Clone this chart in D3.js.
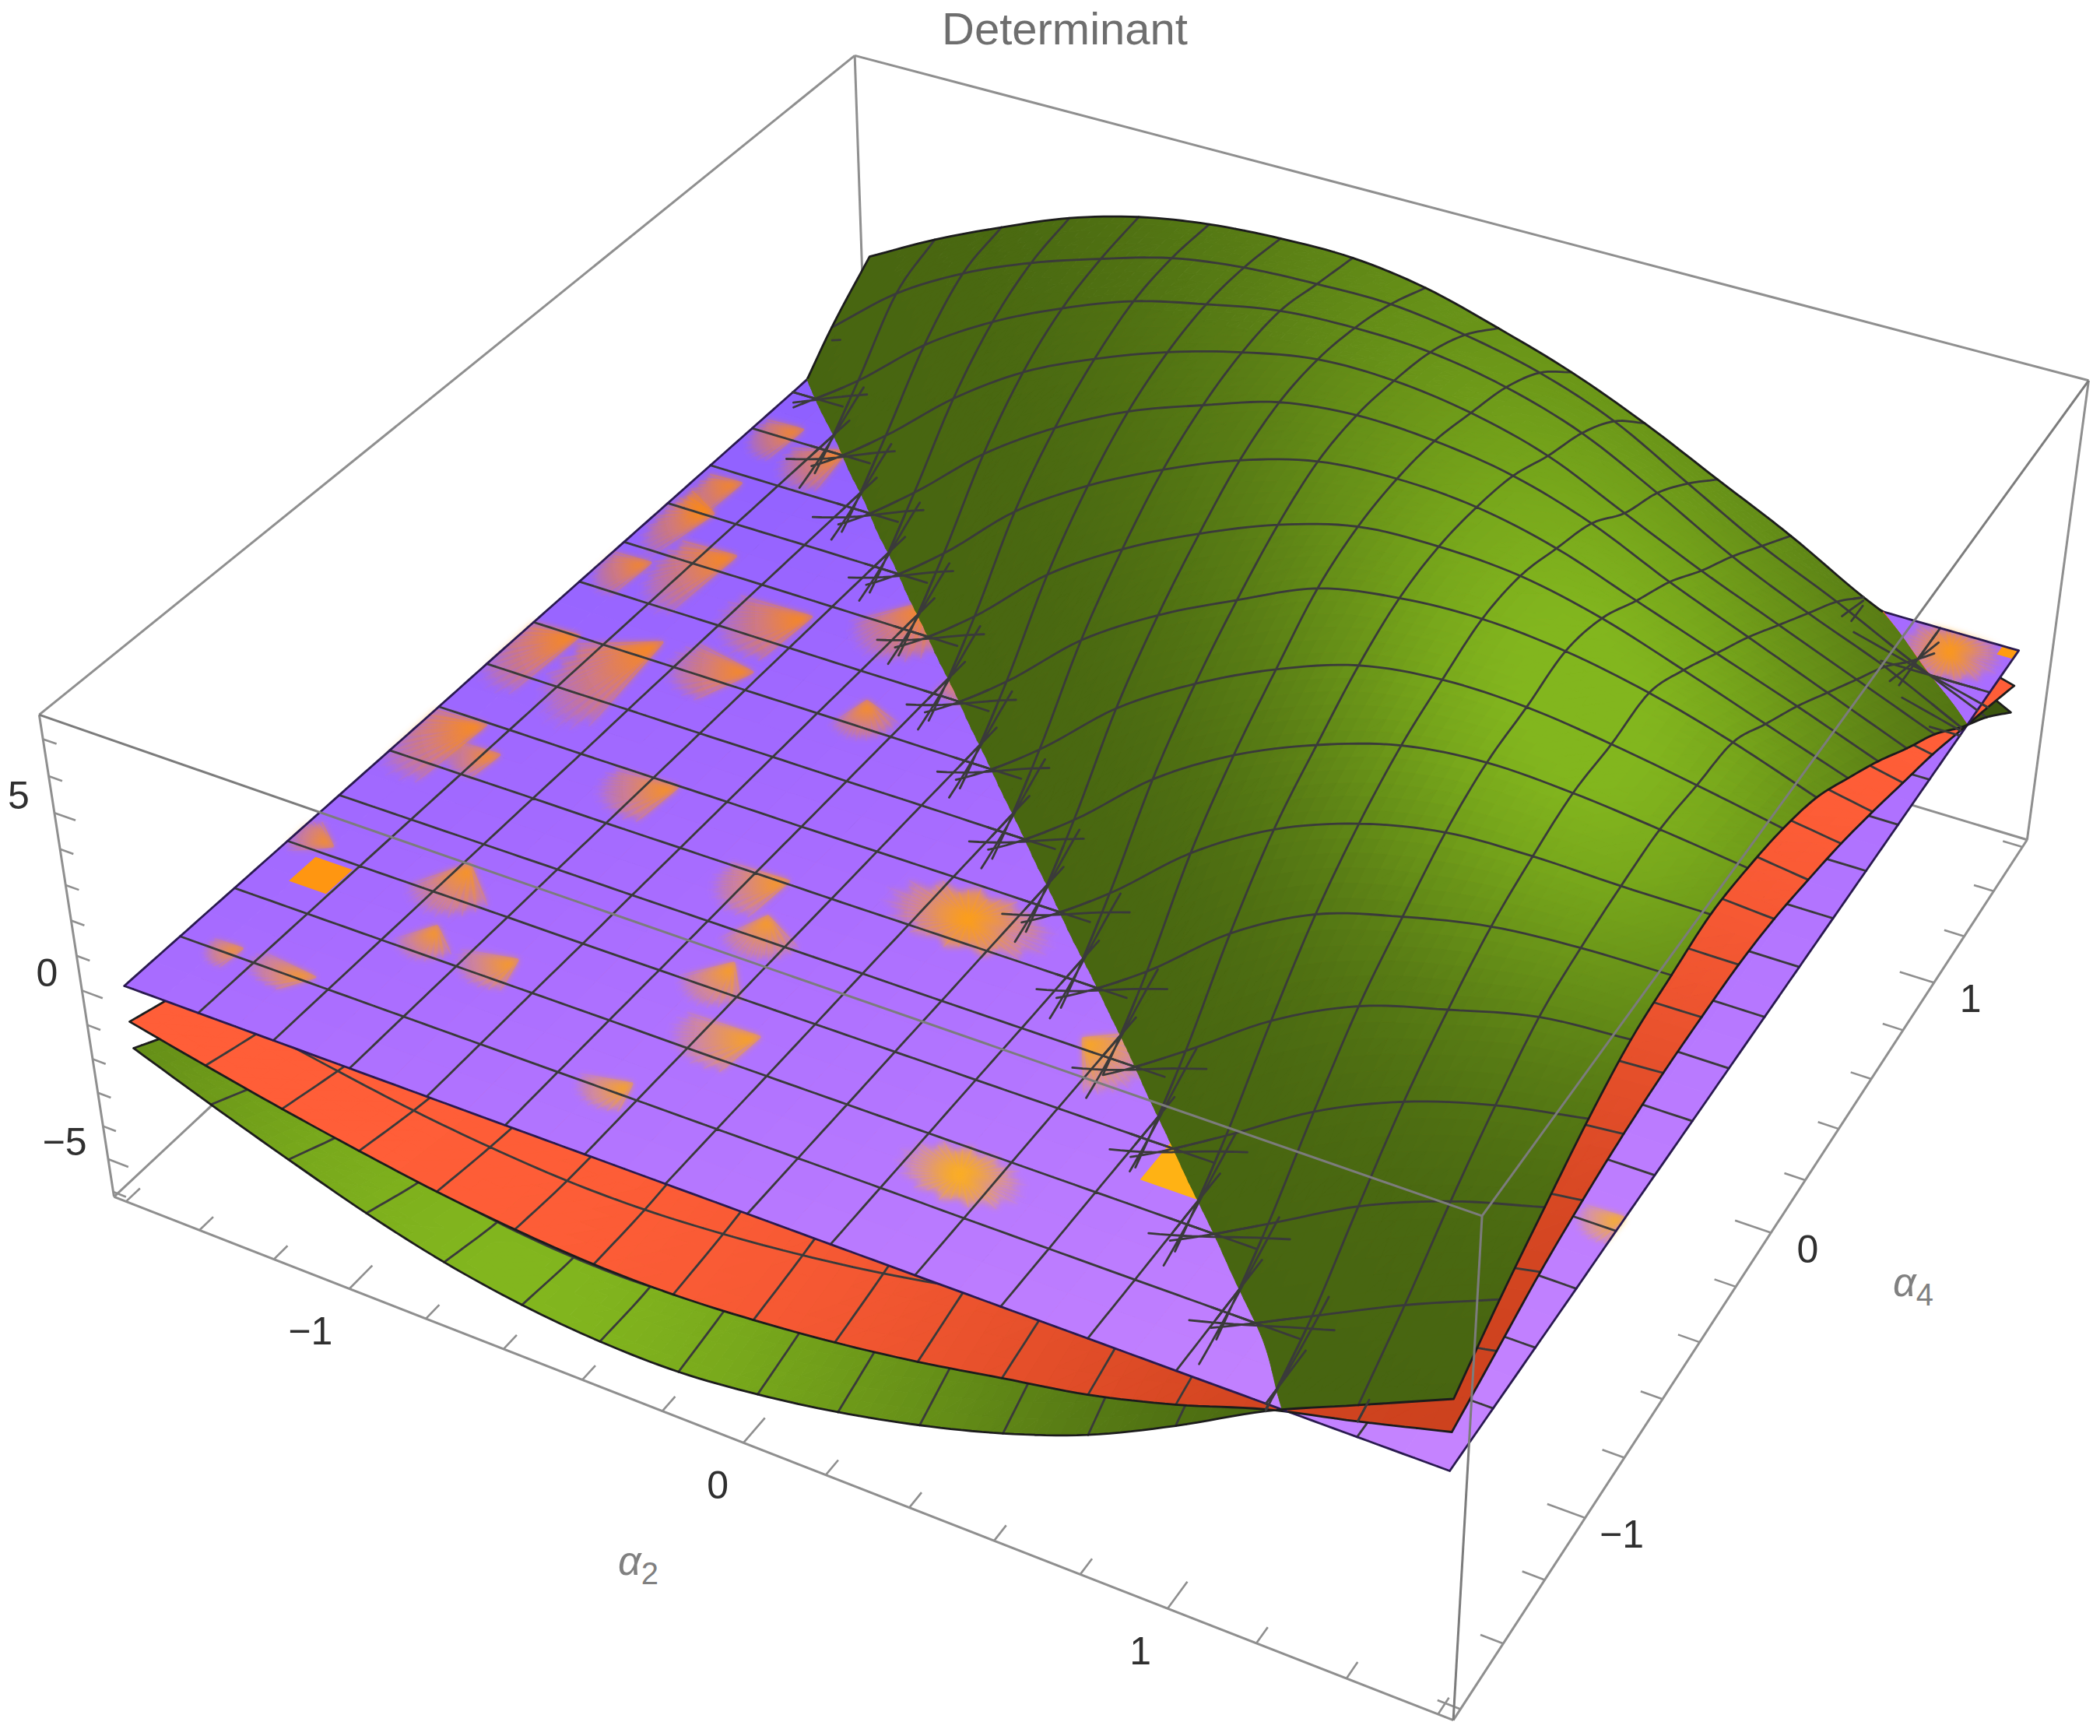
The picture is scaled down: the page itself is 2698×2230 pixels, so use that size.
<!DOCTYPE html>
<html><head><meta charset="utf-8"><script src="https://cdn.jsdelivr.net/npm/d3@7"></script>
<style>html,body{margin:0;padding:0;background:#fff}svg{display:block}</style></head><body><svg id="c" width="2698" height="2230" viewBox="0 0 2698 2230"></svg>
<script>
// z values of the three sheets on the mesh, rows = alpha4 index, columns = alpha2 index
const zGreen=[
[-1.9,-2.75,-3.55,-4.3,-4.9,-5.3,-5.5,-5.5,-5.25,-4.85,-4.3,-3.6,-2.7,-1.5,-.15,.95,2.05],
[-2.75,-3.55,-4.3,-4.9,-5.3,-5.5,-5.5,-5.2,-4.8,-4.2,-3.4,-2.6,-1.5,-.4,.8,2.0,3.05],
[-3.55,-4.3,-4.9,-5.3,-5.5,-5.5,-5.2,-4.8,-4.2,-3.4,-2.6,-1.55,-.45,.85,2.2,3.2,3.9],
[-4.3,-4.9,-5.3,-5.5,-5.5,-5.2,-4.8,-4.2,-3.4,-2.6,-1.6,-.5,.9,2.4,3.5,4.23,4.7],
[-4.9,-5.3,-5.5,-5.5,-5.2,-4.8,-4.2,-3.4,-2.6,-1.6,-.55,.95,2.6,3.8,4.5,5.1,5.3],
[-5.3,-5.5,-5.5,-5.2,-4.8,-4.2,-3.4,-2.6,-1.6,-.55,.95,2.8,4.1,4.8,5.3,5.5,5.55],
[-5.5,-5.5,-5.2,-4.8,-4.2,-3.4,-2.6,-1.6,-.55,1.0,2.9,4.3,5.2,5.7,5.8,5.75,5.75],
[-5.5,-5.2,-4.8,-4.2,-3.4,-2.6,-1.6,-.55,1.0,2.9,4.3,5.3,6.0,6.25,6.15,5.9,5.6],
[-5.2,-4.8,-4.2,-3.4,-2.6,-1.6,-.55,1.0,2.9,4.3,5.4,6.2,6.5,6.45,6.15,5.75,5.3],
[-4.8,-4.2,-3.4,-2.6,-1.6,-.55,1.0,2.9,4.3,5.4,6.4,6.8,6.9,6.7,6.25,5.6,4.8],
[-4.2,-3.4,-2.6,-1.6,-.55,1.0,2.9,4.3,5.4,6.3,6.9,7.0,6.85,6.35,5.6,4.8,4.0],
[-3.4,-2.6,-1.6,-.55,1.0,2.9,4.3,5.4,6.3,6.9,7.05,6.9,6.4,5.6,4.8,4.0,3.15],
[-2.6,-1.6,-.55,1.0,2.8,4.2,5.3,6.1,6.8,7.05,6.95,6.6,5.9,4.9,4.0,3.1,2.2],
[-1.6,-.55,.95,2.7,4.1,5.1,5.9,6.5,6.9,6.9,6.6,6.0,5.0,4.0,3.1,2.2,1.3],
[-.55,.9,2.6,3.9,4.9,5.7,6.2,6.6,6.7,6.6,6.2,5.5,4.4,3.2,2.2,1.3,.2],
[.85,2.5,3.7,4.6,5.3,5.9,6.2,6.3,6.3,6.0,5.5,4.7,3.5,2.3,1.3,.2,-.8],
[2.0,3.1,4.05,4.9,5.5,5.85,6.0,6.0,5.7,5.1,4.4,3.5,2.45,1.4,.2,-.8,-1.95]];
const zRed=[
[-1.12,-1.6,-2.05,-2.45,-2.8,-3.05,-3.2,-3.2,-3.05,-2.8,-2.45,-2,-1.55,-.9,-.1,.5,1.15],
[-1.6,-2.05,-2.45,-2.8,-3.05,-3.2,-3.2,-3.05,-2.8,-2.45,-2,-1.55,-.95,-.3,.45,1.15,1.65],
[-2.05,-2.45,-2.8,-3.05,-3.2,-3.2,-3.05,-2.8,-2.45,-2,-1.55,-1,-.35,.45,1.15,1.65,2.15],
[-2.45,-2.8,-3.05,-3.2,-3.2,-3.05,-2.8,-2.45,-2,-1.55,-1,-.4,.45,1.15,1.65,2.15,2.5],
[-2.8,-3.05,-3.2,-3.2,-3.05,-2.8,-2.45,-2,-1.55,-1,-.4,.45,1.15,1.65,2.15,2.5,2.75],
[-3.05,-3.2,-3.2,-3.05,-2.8,-2.45,-2,-1.55,-1,-.4,.45,1.15,1.65,2.15,2.5,2.75,2.9],
[-3.2,-3.2,-3.05,-2.8,-2.45,-2,-1.55,-1,-.4,.45,1.15,1.65,2.15,2.5,2.75,2.9,2.95],
[-3.2,-3.05,-2.8,-2.45,-2,-1.55,-1,-.4,.45,1.15,1.65,2.15,2.5,2.75,2.9,2.95,2.95],
[-3.05,-2.8,-2.45,-2,-1.55,-1,-.4,.45,1.15,1.65,2.15,2.5,2.75,2.9,2.95,2.95,2.8],
[-2.8,-2.45,-2,-1.55,-1,-.4,.45,1.15,1.65,2.15,2.5,2.75,2.9,2.95,2.95,2.8,2.5],
[-2.45,-2,-1.55,-1,-.4,.45,1.15,1.65,2.15,2.5,2.75,2.9,2.95,2.95,2.8,2.5,2.15],
[-2,-1.55,-1,-.4,.45,1.15,1.65,2.15,2.5,2.75,2.9,2.95,2.95,2.8,2.5,2.15,1.7],
[-1.55,-1,-.4,.45,1.15,1.65,2.15,2.5,2.75,2.9,2.95,2.95,2.8,2.5,2.15,1.7,1.2],
[-1,-.4,.45,1.15,1.65,2.15,2.5,2.75,2.9,2.95,2.95,2.8,2.5,2.15,1.7,1.2,.7],
[-.4,.45,1.15,1.65,2.15,2.5,2.75,2.9,2.95,2.95,2.8,2.5,2.15,1.7,1.2,.7,.1],
[.45,1.15,1.65,2.15,2.5,2.75,2.9,2.95,2.95,2.8,2.5,2.15,1.7,1.2,.7,.1,-.5],
[1.15,1.65,2.15,2.5,2.75,2.9,2.95,2.95,2.8,2.5,2.15,1.7,1.2,.7,.1,-.5,-1.13]];
const zPurple=[
[-.08,-.07,-.06,-.05,-.04,-.03,-.02,-.01,0,.01,.02,.03,.04,.05,.06,.07,.08],
[-.08,-.07,-.06,-.05,-.04,-.03,-.02,-.01,0,.01,.01,.02,.03,.04,.05,.06,.07],
[-.08,-.07,-.06,-.05,-.04,-.03,-.03,-.02,-.01,0,.01,.02,.03,.04,.05,.05,.06],
[-.08,-.07,-.06,-.05,-.05,-.04,-.03,-.02,-.01,0,.01,.01,.02,.03,.04,.05,.05],
[-.08,-.07,-.06,-.05,-.05,-.04,-.03,-.02,-.02,-.01,0,.01,.02,.02,.03,.04,.05],
[-.08,-.07,-.06,-.06,-.05,-.04,-.04,-.03,-.02,-.01,-.01,0,.01,.01,.02,.03,.04],
[-.08,-.07,-.07,-.06,-.05,-.05,-.04,-.03,-.03,-.02,-.01,-.01,0,.01,.01,.02,.03],
[-.07,-.07,-.06,-.06,-.05,-.05,-.04,-.04,-.03,-.02,-.02,-.01,-.01,0,0,.01,.02],
[-.07,-.07,-.06,-.06,-.05,-.05,-.05,-.04,-.04,-.03,-.03,-.02,-.02,-.01,0,0,.01],
[-.07,-.07,-.06,-.06,-.06,-.05,-.05,-.05,-.04,-.04,-.03,-.03,-.02,-.02,-.01,-.01,0],
[-.07,-.07,-.06,-.06,-.06,-.06,-.05,-.05,-.05,-.04,-.04,-.04,-.03,-.03,-.02,-.02,-.01],
[-.07,-.07,-.06,-.06,-.06,-.06,-.06,-.05,-.05,-.05,-.05,-.04,-.04,-.04,-.03,-.03,-.02],
[-.07,-.07,-.06,-.06,-.06,-.06,-.06,-.06,-.05,-.05,-.05,-.05,-.05,-.04,-.04,-.03,-.03],
[-.07,-.07,-.06,-.06,-.06,-.06,-.06,-.06,-.06,-.05,-.05,-.05,-.05,-.05,-.05,-.04,-.04],
[-.07,-.06,-.06,-.06,-.06,-.06,-.06,-.06,-.06,-.06,-.06,-.05,-.05,-.05,-.05,-.05,-.05],
[-.06,-.06,-.06,-.06,-.06,-.06,-.06,-.06,-.06,-.06,-.06,-.06,-.06,-.06,-.05,-.05,-.05],
[-.06,-.06,-.06,-.06,-.06,-.06,-.06,-.06,-.06,-.06,-.06,-.06,-.06,-.06,-.06,-.06,-.06]];
const N=16;
const DOM=1.57, BOX=1.633, ZMIN=-6.15, ZMAX=7.65;
const patchA2=[-1.43,-1.50,-1.50,-1.30,-1.35,-1.49,-1.49,-1.49,-1.34,-1.07,-1.08,-.79,-.68,-.97,-1.38,-1.15,-1.52,-1.45,-1.29,-1.09,-.91,-.56,-.46,-.09,-.46,-.34,-.46,.40,.32,.74,1.54,1.43,-1.50,-.54,1.55];
const patchA4=[-1.05,-.49,-.09,-.08,.37,.54,.68,.98,.92,.26,.03,.41,.04,-.45,-.52,-.94,-.95,-1.37,-1.37,-1.13,-1.14,-.63,-.77,-.51,-.95,-1.12,-1.37,-.77,-1.26,-1.02,-.77,1.49,.29,.26,1.55];
const patchR2=[.05,.13,.11,.12,.10,.07,.06,.07,.09,.13,.12,.12,.08,.11,.08,.10,.07,.05,.10,.07,.09,.10,.09,.20,.08,.12,.08,.10,.14,.09,.06,.12,.07,.08,.02];
const patchR4=[.05,.17,.18,.24,.19,.17,.14,.11,.13,.14,.11,.15,.09,.10,.07,.11,.06,.05,.05,.07,.07,.10,.09,.10,.09,.09,.06,.13,.08,.08,.06,.12,.11,.08,.02];
const patchSolid=[1,0,0,0,0,0,0,0,0,0,0,0,0,0,0,0,0,0,0,0,0,0,0,0,0,0,0,0,0,1,0,0,0,0,1];
const patchDir=[0,45,45,60,45,30,45,45,60,45,30,90,120,45,45,100,0,45,30,100,60,45,110,-1,90,45,60,170,-1,0,45,-1,45,120,0];
const zTicks=[-6,-5,-4,-3,-2,-1,0,1,2,3,4,5,6,7];
const minorTicks=[-1.6,-1.4,-1.2,-1,-.8,-.6,-.4,-.2,0,.2,.4,.6,.8,1,1.2,1.4,1.6];
const a2Labels=[-1,0,1], a4Labels=[-1,0,1], zLabels=[-5,0,5];
const title="Determinant";

const sx=d3.scaleLinear().domain([-BOX,BOX]).range([0,1]);
const sy=d3.scaleLinear().domain([-BOX,BOX]).range([0,1]);
const sz=d3.scaleLinear().domain([ZMIN,ZMAX]).range([0,1]);
const sGrid=d3.scaleLinear().domain([0,N]).range([-DOM,DOM]);

const calib=[[0,0,0,147,1537],[1,0,0,1867,2211],[1,1,0,2604,1078],[0,0,1,50,919],[1,0,1,1904,1560],[1,1,1,2684,490],[0,1,1,1098,71]];
function solveCam(){
  const A=[],b=[];
  calib.forEach(([X,Y,Z,x0,y0])=>{const x=x0/1000,y=y0/1000;
    A.push([X,Y,Z,1,0,0,0,0,-x*X,-x*Y,-x*Z]);b.push(x);
    A.push([0,0,0,0,X,Y,Z,1,-y*X,-y*Y,-y*Z]);b.push(y);});
  const n=11,M=d3.range(n).map(r=>d3.range(n+1).map(c=>{let s=0;A.forEach((row,k)=>{s+=row[r]*(c<n?row[c]:b[k]);});return s;}));
  for(let c=0;c<n;c++){let p=c;for(let r=c;r<n;r++)if(Math.abs(M[r][c])>Math.abs(M[p][c]))p=r;[M[c],M[p]]=[M[p],M[c]];
    for(let r=0;r<n;r++)if(r!==c){const f=M[r][c]/M[c][c];for(let k=c;k<=n;k++)M[r][k]-=f*M[c][k];}}
  return M.map((r,i)=>r[n]/r[i]);
}
const H=solveCam();
function proj(a2,a4,z){const X=sx(a2),Y=sy(a4),Z=sz(z);const w=H[8]*X+H[9]*Y+H[10]*Z+1;
  return [1000*(H[0]*X+H[1]*Y+H[2]*Z+H[3])/w,1000*(H[4]*X+H[5]*Y+H[6]*Z+H[7])/w];}

// smooth surface through the mesh values (Catmull-Rom patches)
const cr=(a,b,c,d,t)=>.5*(2*b+(c-a)*t+(2*a-5*b+4*c-d)*t*t+(3*b-a-3*c+d)*t*t*t);
const at=(T,i,j)=>{if(i<0)return 2*at(T,0,j)-at(T,1,j);if(i>N)return 2*at(T,N,j)-at(T,N-1,j);if(j<0)return 2*at(T,i,0)-at(T,i,1);if(j>N)return 2*at(T,i,N)-at(T,i,N-1);return T[j][i];};
function bil(T,gi,gj){const i=Math.min(N-1,Math.floor(gi)),j=Math.min(N-1,Math.floor(gj)),u=gi-i,v=gj-j;
  const r=[-1,0,1,2].map(dj=>cr(at(T,i-1,j+dj),at(T,i,j+dj),at(T,i+1,j+dj),at(T,i+2,j+dj),u));
  return cr(r[0],r[1],r[2],r[3],v);}

const gauss=(p,c,s1,s2,ax,ay)=>{const dx=p[0]-c[0],dy=p[1]-c[1];const al=dx*ax+dy*ay,ac=-dx*ay+dy*ax;return Math.exp(-al*al/(2*s1*s1)-ac*ac/(2*s2*s2));};
const gD=[60,86,14],gB=[130,182,30];
const mix=(a,b,t)=>`rgb(${Math.round(a[0]+(b[0]-a[0])*t)},${Math.round(a[1]+(b[1]-a[1])*t)},${Math.round(a[2]+(b[2]-a[2])*t)})`;
function q(t){return Math.round(Math.max(0,Math.min(1,t))*100)/100;}
const greenTop=(p)=>mix(gD,gB,q(.16+.66*gauss(p,[2030,980],300,230,.53,.85)+.4*gauss(p,[1950,500],450,260,.5,.85)));
const greenLow=(p)=>mix(gD,gB,q(gauss(p,[654,1652],550,550,1,0)));
const redCol=(gi,gj)=>{const s=gi/N,t=gj/N,d2=(1-s)*(1-s)+t*t;return mix([205,66,30],[255,94,56],q(1-Math.exp(-d2/(2*.27*.27))));};
const purpleCol=(gi,gj)=>{const s=gi/N,t=gj/N,m=(s-t+1)/2;const c=m<.5?[138+(168-138)*m*2,94+(108-94)*m*2,255]:[168+(198-168)*(m-.5)*2,108+(132-108)*(m-.5)*2,255];return `rgb(${Math.round(c[0])},${Math.round(c[1])},${Math.round(c[2])})`;};

const svg=d3.select('#c');
const line=d3.line();
function boxEdge(g,a,b,w,c){g.append('path').attr('d',line([proj(...a),proj(...b)])).attr('fill','none').attr('stroke',c||'#8f8f8f').attr('stroke-width',w||3);}
const B0=-BOX,B1=BOX;
const back=svg.append('g').attr('id','box-back');
[[[B0,B0,ZMIN],[B1,B0,ZMIN]],[[B1,B0,ZMIN],[B1,B1,ZMIN]],[[B1,B1,ZMIN],[B0,B1,ZMIN]],[[B0,B1,ZMIN],[B0,B0,ZMIN]],
 [[B0,B0,ZMAX],[B0,B1,ZMAX]],[[B0,B1,ZMAX],[B1,B1,ZMAX]],[[B0,B0,ZMIN],[B0,B0,ZMAX]],[[B1,B1,ZMIN],[B1,B1,ZMAX]],[[B0,B1,ZMIN],[B0,B1,ZMAX]]].forEach(e=>boxEdge(back,e[0],e[1]));

const ticks=svg.append('g').attr('id','ticks');
function tick(a,b){ticks.append('path').attr('d',line([proj(...a),proj(...b)])).attr('stroke','#8f8f8f').attr('stroke-width',2.6).attr('fill','none');}
const isMaj=v=>Math.abs(v-Math.round(v))<1e-6;
minorTicks.forEach(v=>{const l=isMaj(v)?.085:.05;tick([v,B0,ZMIN],[v,B0+l,ZMIN]);tick([B1,v,ZMIN],[B1-l,v,ZMIN]);});
zTicks.forEach(v=>{const l=v%5===0?.055:.035;tick([B0,B0,v],[B0+l,B0,v]);});

function clipTri(tri,fn){const above=[],below=[];
  for(let k=0;k<3;k++){const a=tri[k],b=tri[(k+1)%3],fa=fn(a),fb=fn(b);
    (fa>=0?above:below).push(a);
    if((fa>=0)!==(fb>=0)){const t=fa/(fa-fb);const m=[a[0]+(b[0]-a[0])*t,a[1]+(b[1]-a[1])*t];above.push(m);below.push(m);}}
  return {above,below};}

function buildFill(T,n,colA,colB){
  const A=new Map(),Bm=new Map();
  const add=(m,poly,col)=>{if(poly.length<3)return;let p=m.get(col);if(!p){p=d3.path();m.set(col,p);}
    const pts=poly.map(g=>proj(sGrid(g[0]),sGrid(g[1]),bil(T,g[0],g[1])));
    p.moveTo(pts[0][0],pts[0][1]);pts.slice(1).forEach(q=>p.lineTo(q[0],q[1]));p.closePath();};
  const fn=g=>bil(T,g[0],g[1])-bil(zPurple,g[0],g[1]);
  for(let x=0;x<N*n;x++)for(let y=0;y<N*n;y++){
    const a=[x/n,y/n],b=[(x+1)/n,y/n],c=[(x+1)/n,(y+1)/n],d=[x/n,(y+1)/n];
    [[a,b,c],[a,c,d]].forEach(tri=>{const r=clipTri(tri,fn);
      [[r.above,colB,Bm],[r.below,colA,A]].forEach(([poly,cf,m])=>{if(poly.length<3)return;
        const cx=d3.mean(poly,g=>g[0]),cy=d3.mean(poly,g=>g[1]);
        add(m,poly,cf(cx,cy));});});}
  return [A,Bm];
}
function drawFill(g,m){m.forEach((p,col)=>{g.append('path').attr('d',p.toString()).attr('fill',col).attr('stroke',col).attr('stroke-width',.9).attr('stroke-linejoin','round');});}

const MESH='#3a3a3a',EDGE='#1c1c1c',MW=2.8,EW=2.8,THR=.62;
const teeth=d3.path();
function buildMesh(T,isPurple){
  const a=d3.path(),b=d3.path(),e=d3.path(),sub=8;
  const seg=(g1,g2,isEdge)=>{const p1=proj(sGrid(g1[0]),sGrid(g1[1]),bil(T,g1[0],g1[1])),p2=proj(sGrid(g2[0]),sGrid(g2[1]),bil(T,g2[0],g2[1]));
    const mg=[(g1[0]+g2[0])/2,(g1[1]+g2[1])/2];
    const f=(isPurple?bil(zGreen,mg[0],mg[1]):bil(T,mg[0],mg[1]))-bil(zPurple,mg[0],mg[1]);
    const t=isEdge?e:(isPurple?a:(f>=0?b:a));
    t.moveTo(p1[0],p1[1]);t.lineTo(p2[0],p2[1]);
    if(!isEdge&&Math.abs(f)<THR){teeth.moveTo(p1[0],p1[1]);teeth.lineTo(p2[0],p2[1]);}
  };
  for(let l=0;l<=N;l++)for(let c=0;c<N*sub;c++){
    seg([l,c/sub],[l,(c+1)/sub],l===0||l===N);
    seg([c/sub,l],[(c+1)/sub,l],l===0||l===N);}
  return {a,b,e};
}
const edgeLayered=(T)=>{const a=d3.path(),b=d3.path(),sub=8;
  const seg=(g1,g2)=>{const p1=proj(sGrid(g1[0]),sGrid(g1[1]),bil(T,g1[0],g1[1])),p2=proj(sGrid(g2[0]),sGrid(g2[1]),bil(T,g2[0],g2[1]));
    const mg=[(g1[0]+g2[0])/2,(g1[1]+g2[1])/2];const f=bil(T,mg[0],mg[1])-bil(zPurple,mg[0],mg[1]);const t=f>=0?b:a;t.moveTo(p1[0],p1[1]);t.lineTo(p2[0],p2[1]);};
  for(const l of [0,N])for(let c=0;c<N*sub;c++){seg([l,c/sub],[l,(c+1)/sub]);seg([c/sub,l],[(c+1)/sub,l]);}
  return {a,b};};
function stroke(g,p,col,w){g.append('path').attr('d',p.toString()).attr('fill','none').attr('stroke',col).attr('stroke-width',w).attr('stroke-linecap','round');}

const gF=buildFill(zGreen,6,(x,y)=>greenLow(proj(sGrid(x),sGrid(y),bil(zGreen,x,y))),(x,y)=>greenTop(proj(sGrid(x),sGrid(y),bil(zGreen,x,y))));
const rF=buildFill(zRed,4,redCol,redCol);
const gM=buildMesh(zGreen,false),rM=buildMesh(zRed,false),pM=buildMesh(zPurple,true);
const gE=edgeLayered(zGreen),rE=edgeLayered(zRed);

const L1=svg.append('g').attr('id','green-under');drawFill(L1,gF[0]);stroke(L1,gM.a,MESH,MW);stroke(L1,gE.a,EDGE,EW);
const L2=svg.append('g').attr('id','red-under');drawFill(L2,rF[0]);stroke(L2,rM.a,MESH,MW);stroke(L2,rE.a,EDGE,EW);
const L3=svg.append('g').attr('id','purple');
const pm=new Map();
for(let x=0;x<N*2;x++)for(let y=0;y<N*2;y++){const a=[x/2,y/2],b=[(x+1)/2,y/2],c=[(x+1)/2,(y+1)/2],d=[x/2,(y+1)/2];
  const col=purpleCol((x+.5)/2,(y+.5)/2);let p=pm.get(col);if(!p){p=d3.path();pm.set(col,p);}
  const pts=[a,b,c,d].map(g=>proj(sGrid(g[0]),sGrid(g[1]),bil(zPurple,g[0],g[1])));
  p.moveTo(pts[0][0],pts[0][1]);pts.slice(1).forEach(q=>p.lineTo(q[0],q[1]));p.closePath();}
drawFill(L3,pm);
// orange patches: soft fans on the purple sheet
const defs=svg.append('defs');
defs.append('filter').attr('id','soft').attr('x','-30%').attr('y','-30%').attr('width','160%').attr('height','160%').append('feGaussianBlur').attr('stdDeviation',4.5);
const clamp=v=>Math.max(-DOM,Math.min(DOM,v));
const pz=(a2,a4)=>bil(zPurple,sGrid.invert(a2),sGrid.invert(a4));
const pp=(a2,a4)=>{const A=clamp(a2),Bb=clamp(a4);return proj(A,Bb,pz(A,Bb));};
patchA2.forEach((a2,k)=>{const a4=patchA4[k],r2=patchR2[k],r4=patchR4[k],dir=patchDir[k];
  const m=(sGrid.invert(a2)/N-sGrid.invert(a4)/N+1)/2;
  const col=d3.interpolateRgb('#ff8a10','#ffb414')(Math.max(0,Math.min(1,(m-.3)/.5)));
  if(patchSolid[k]){const pts=[[-1,-1],[1,-1],[1,1],[-1,1]].map(([u,v])=>pp(a2+u*r2,a4+v*r4));
    L3.append('path').attr('d',line(pts)+'Z').attr('fill',col);return;}
  const d=dir*Math.PI/180;
  const apex=dir<0?pp(a2,a4):pp(a2+.75*r2*Math.cos(d),a4+.75*r4*Math.sin(d));
  const pts=(dir<0?d3.range(44).map(i=>i/44*2*Math.PI):d3.range(29).map(i=>d+Math.PI-1.25+i/28*2.5)).map((th,i)=>{const rr=1.1-.28*((i%3)/2);return pp(a2+rr*r2*Math.cos(th),a4+rr*r4*Math.sin(th));});
  const R=d3.max(pts,q=>Math.hypot(q[0]-apex[0],q[1]-apex[1]));
  const id='og'+k;const gr=defs.append('radialGradient').attr('id',id).attr('gradientUnits','userSpaceOnUse').attr('cx',apex[0]).attr('cy',apex[1]).attr('r',R);
  gr.append('stop').attr('offset','0%').attr('stop-color',col).attr('stop-opacity',.95);
  gr.append('stop').attr('offset','45%').attr('stop-color',col).attr('stop-opacity',.5);
  gr.append('stop').attr('offset','100%').attr('stop-color',col).attr('stop-opacity',.02);
  L3.append('path').attr('d',line([apex,...pts])+'Z').attr('fill',`url(#${id})`).attr('filter','url(#soft)');
  const fan=d3.path();pts.forEach(q=>{fan.moveTo(apex[0],apex[1]);fan.lineTo(q[0],q[1]);});
  L3.append('path').attr('d',fan.toString()).attr('stroke',`url(#${id})`).attr('stroke-opacity',.45).attr('stroke-width',2.2).attr('fill','none');
});
stroke(L3,pM.a,MESH,MW);stroke(L3,pM.e,'#2a1a50',EW);
const L4=svg.append('g').attr('id','red-over');drawFill(L4,rF[1]);stroke(L4,rM.b,MESH,MW);stroke(L4,rE.b,EDGE,EW);
const L5=svg.append('g').attr('id','green-over');drawFill(L5,gF[1]);stroke(L5,gM.b,MESH,MW);stroke(L5,gE.b,EDGE,EW);
stroke(svg.append('g').attr('id','mesh-crossing'),teeth,'#3a3a3a',MW);

const front=svg.append('g').attr('id','box-front');
[[[B0,B0,ZMAX],[B1,B0,ZMAX]],[[B1,B0,ZMAX],[B1,B1,ZMAX]],[[B1,B0,ZMIN],[B1,B0,ZMAX]]].forEach(e=>boxEdge(front,e[0],e[1],3,'#7c7c7c'));

const T=svg.append('g').attr('font-family','"Liberation Sans",Arial,sans-serif');
const minus=v=>v<0?'\u2212'+Math.abs(v):''+v;
const num=(x,y,v)=>T.append('text').attr('x',x).attr('y',y).attr('text-anchor','middle').attr('font-size',50).attr('fill','#2f2f2f').text(minus(v));
const a2dx={'-1':-50,'0':-33,'1':-35},zdx={'-5':-56,'0':-45,'5':-46};
a2Labels.forEach(v=>{const p=proj(v,B0,ZMIN);num(p[0]+a2dx[v],p[1]+72,v);});
a4Labels.forEach(v=>{const q=proj(B1,v,ZMIN);num(q[0]+47,q[1]+38,v);});
zLabels.forEach(v=>{const p=proj(B0,B0,v);num(p[0]+zdx[v],p[1]-5,v);});
T.append('text').attr('x',1368).attr('y',57).attr('text-anchor','middle').attr('font-size',58).attr('fill','#6e6e6e').text(title);
function axisLabel(x,y,sub){const t=T.append('text').attr('x',x).attr('y',y).attr('font-size',52).attr('fill','#808080').attr('text-anchor','middle');
  t.append('tspan').attr('font-style','italic').text('\u03b1');t.append('tspan').attr('font-size',40).attr('dy',12).text(sub);}
axisLabel(820,2023,'2');axisLabel(2458,1665,'4');
</script></body></html>
